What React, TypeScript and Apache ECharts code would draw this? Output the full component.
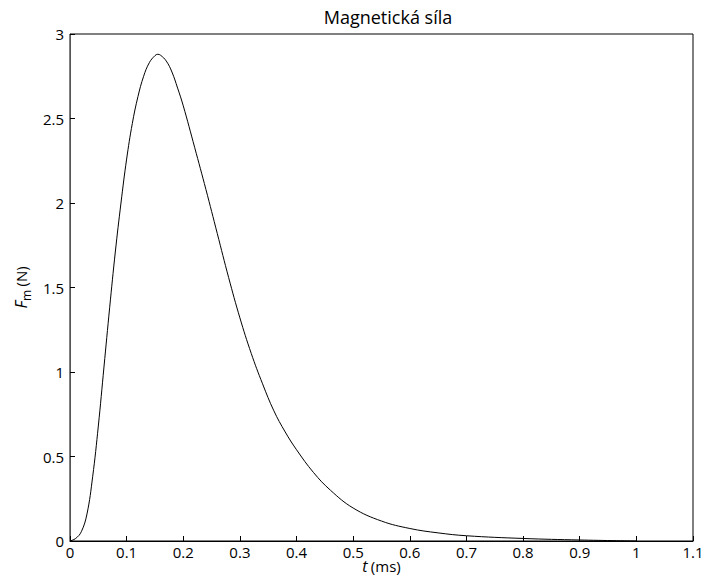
import React, { useEffect, useRef } from "react";
import * as echarts from "echarts";

const timeMs = [0, 0.01, 0.02, 0.03, 0.04, 0.05, 0.06, 0.07, 0.08, 0.09, 0.1, 0.11, 0.12, 0.13, 0.14, 0.15, 0.155, 0.16, 0.17, 0.18, 0.19, 0.2, 0.22, 0.24, 0.26, 0.28, 0.3, 0.32, 0.34, 0.36, 0.38, 0.4, 0.43, 0.46, 0.5, 0.55, 0.6, 0.65, 0.7, 0.8, 0.9, 1.0];
const forceN = [0, 0.015, 0.055, 0.16, 0.38, 0.68, 1.03, 1.38, 1.71, 2.0, 2.26, 2.47, 2.63, 2.75, 2.83, 2.872, 2.88, 2.874, 2.84, 2.775, 2.68, 2.575, 2.33, 2.08, 1.82, 1.56, 1.32, 1.11, 0.93, 0.77, 0.645, 0.54, 0.405, 0.3, 0.195, 0.118, 0.074, 0.048, 0.031, 0.015, 0.006, 0];

const titleText = "Magnetická síla";
const FONT = "Open Sans";

export default function App() {
  const ref = useRef<HTMLDivElement>(null);
  useEffect(() => {
    const chart = echarts.init(ref.current!, null, { renderer: "svg" });
    const data = timeMs.map((t, i) => [t, forceN[i]]);
    chart.setOption({
      animation: false,
      backgroundColor: "#fff",
      title: {
        text: titleText,
        left: 383,
        top: 3,
        textAlign: "center",
        textStyle: { fontFamily: FONT, fontSize: 18, fontWeight: "normal", color: "#000" },
      },
      grid: {
        left: 70,
        right: 12,
        top: 34,
        bottom: 35,
        outerBoundsMode: "none",
        containLabel: false,
        show: true,
        borderColor: "#000",
        borderWidth: 1,
      },
      xAxis: {
        type: "value",
        min: 0,
        max: 1.1,
        interval: 0.1,
        name: "{i|t} {n|(ms)}",
        nameLocation: "middle",
        nameGap: 17,
        nameMoveOverlap: false,
        nameTextStyle: {
          rich: {
            i: { fontFamily: FONT, fontStyle: "italic", fontSize: 16, color: "#000" },
            n: { fontFamily: FONT, fontSize: 15, color: "#000" },
          },
        },
        axisLine: { lineStyle: { color: "#000", width: 1 } },
        axisTick: { inside: true, length: 5, lineStyle: { color: "#000" } },
        splitLine: { show: false },
        axisLabel: {
          fontFamily: FONT,
          fontSize: 15,
          color: "#000",
          margin: 3,
          formatter: (v: number) => String(+v.toFixed(1)),
        },
      },
      yAxis: {
        type: "value",
        min: 0,
        max: 3,
        interval: 0.5,
        name: "{i|F}{sub|m} {n|(N)}",
        nameLocation: "middle",
        nameGap: 38,
        nameMoveOverlap: false,
        nameRotate: 90,
        nameTextStyle: {
          rich: {
            i: { fontFamily: FONT, fontStyle: "italic", fontSize: 16, color: "#000", lineHeight: 22 },
            sub: { fontFamily: FONT, fontSize: 12, color: "#000", lineHeight: 12, verticalAlign: "bottom" },
            n: { fontFamily: FONT, fontSize: 15, color: "#000", lineHeight: 22 },
          },
        },
        axisLine: { show: true, lineStyle: { color: "#555", width: 1 } },
        axisTick: { show: true, inside: true, length: 5, lineStyle: { color: "#000" } },
        splitLine: { show: false },
        axisLabel: {
          fontFamily: FONT,
          fontSize: 15,
          color: "#000",
          margin: 6,
        },
      },
      series: [
        {
          type: "line",
          data,
          smooth: 0.4,
          showSymbol: false,
          lineStyle: { color: "#000", width: 1 },
        },
      ],
    });
    return () => chart.dispose();
  }, []);
  return (
    <div
      ref={ref}
      style={{ position: "fixed", left: 0, top: 0, width: 705, height: 576 }}
    />
  );
}
